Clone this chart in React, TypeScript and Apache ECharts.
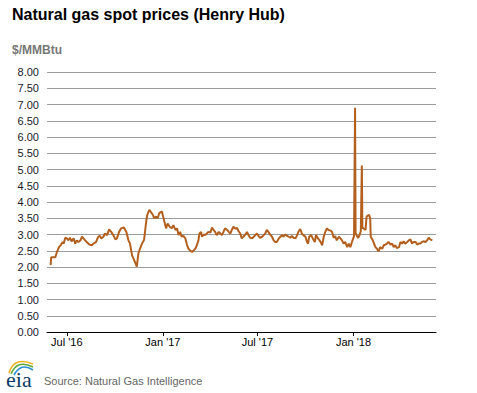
import React, { useEffect, useRef } from "react";
import * as echarts from "echarts";

const chartTitle = "Natural gas spot prices (Henry Hub)";
const unitLabel = "$/MMBtu";
const sourceLabel = "Source: Natural Gas Intelligence";
const logoText = "eia";

const dates = [
  "2016-05-31","2016-06-01","2016-06-09","2016-06-12","2016-06-16","2016-06-20","2016-06-23","2016-06-25","2016-06-28",
  "2016-07-01","2016-07-04","2016-07-07","2016-07-10","2016-07-14","2016-07-17","2016-07-20","2016-07-23","2016-07-27","2016-07-30",
  "2016-08-02","2016-08-05","2016-08-08","2016-08-13","2016-08-18","2016-08-21","2016-08-26","2016-08-30",
  "2016-09-02","2016-09-05","2016-09-09","2016-09-12","2016-09-16","2016-09-20","2016-09-24","2016-09-28",
  "2016-10-02","2016-10-05","2016-10-09","2016-10-13","2016-10-18","2016-10-23","2016-10-27","2016-10-30",
  "2016-11-03","2016-11-06","2016-11-12","2016-11-15","2016-11-18","2016-11-22","2016-11-26","2016-11-30",
  "2016-12-02","2016-12-06","2016-12-13","2016-12-15","2016-12-19","2016-12-22","2016-12-25","2016-12-30",
  "2017-01-03","2017-01-07","2017-01-10","2017-01-14","2017-01-18","2017-01-21","2017-01-25","2017-01-28","2017-01-31",
  "2017-02-03","2017-02-06","2017-02-09","2017-02-13","2017-02-16","2017-02-19","2017-02-22","2017-02-26",
  "2017-03-01","2017-03-04","2017-03-07","2017-03-10","2017-03-12","2017-03-15","2017-03-17","2017-03-20","2017-03-23","2017-03-26","2017-03-29",
  "2017-04-02","2017-04-05","2017-04-08","2017-04-11","2017-04-14","2017-04-18","2017-04-21","2017-04-24","2017-04-27","2017-04-30",
  "2017-05-04","2017-05-07","2017-05-10","2017-05-13","2017-05-16","2017-05-20","2017-05-23","2017-05-26","2017-05-29",
  "2017-06-01","2017-06-04","2017-06-08","2017-06-11","2017-06-14","2017-06-17","2017-06-21","2017-06-24","2017-06-27","2017-06-30",
  "2017-07-03","2017-07-06","2017-07-10","2017-07-13","2017-07-16","2017-07-19","2017-07-22","2017-07-26","2017-07-29",
  "2017-08-01","2017-08-04","2017-08-07","2017-08-11","2017-08-14","2017-08-17","2017-08-20","2017-08-23","2017-08-27","2017-08-30",
  "2017-09-02","2017-09-05","2017-09-08","2017-09-12","2017-09-15","2017-09-18","2017-09-21","2017-09-24","2017-09-27",
  "2017-10-01","2017-10-04","2017-10-06","2017-10-08","2017-10-12","2017-10-15","2017-10-19","2017-10-21","2017-10-25","2017-10-28","2017-10-30",
  "2017-11-02","2017-11-05","2017-11-08","2017-11-11","2017-11-14","2017-11-18","2017-11-21","2017-11-24","2017-11-27","2017-11-30",
  "2017-12-04","2017-12-07","2017-12-10","2017-12-13","2017-12-16","2017-12-20","2017-12-23","2017-12-26","2017-12-29",
  "2018-01-02","2018-01-04","2018-01-05","2018-01-08","2018-01-10","2018-01-12","2018-01-15","2018-01-17","2018-01-18","2018-01-20","2018-01-24","2018-01-26","2018-01-28","2018-01-31",
  "2018-02-02","2018-02-03","2018-02-07","2018-02-12","2018-02-15","2018-02-18","2018-02-21","2018-02-25","2018-02-28",
  "2018-03-03","2018-03-06","2018-03-09","2018-03-13","2018-03-16","2018-03-19","2018-03-22","2018-03-25","2018-03-29",
  "2018-04-01","2018-04-04","2018-04-07","2018-04-10","2018-04-14","2018-04-17","2018-04-20","2018-04-23","2018-04-26","2018-04-30",
  "2018-05-03","2018-05-06","2018-05-09","2018-05-12","2018-05-15","2018-05-19","2018-05-22","2018-05-25","2018-05-28","2018-06-01",
];

const prices = [
  2.06,2.30,2.30,2.46,2.61,2.69,2.77,2.72,2.90,
  2.88,2.82,2.90,2.79,2.88,2.72,2.82,2.77,2.82,2.93,
  2.88,2.82,2.77,2.69,2.67,2.72,2.77,2.93,
  2.96,2.88,2.93,3.03,2.98,3.16,3.08,2.98,
  2.85,2.88,3.08,3.19,3.22,3.08,2.82,2.72,
  2.35,2.25,2.01,2.41,2.56,2.72,2.84,3.40,
  3.60,3.76,3.60,3.50,3.55,3.50,3.66,3.71,
  3.45,3.19,3.34,3.24,3.19,3.29,3.14,3.19,2.98,
  3.08,2.93,2.96,2.88,2.69,2.56,2.51,2.46,
  2.51,2.56,2.67,2.82,3.03,3.08,2.93,3.00,2.98,3.03,3.08,
  3.06,3.21,3.14,3.08,2.98,3.08,3.03,2.98,3.08,3.19,
  3.14,3.08,3.03,3.14,3.24,3.18,3.20,3.10,3.03,
  2.88,2.93,3.00,3.08,2.98,2.90,2.88,2.93,2.98,3.03,
  2.96,2.90,2.93,2.98,3.03,3.14,3.08,2.98,2.93,
  2.82,2.77,2.77,2.88,2.93,2.98,2.93,3.00,2.96,2.93,
  2.90,2.96,2.90,2.88,2.98,3.10,3.17,3.03,2.98,
  2.93,2.77,2.72,2.93,2.98,2.88,2.77,2.98,2.88,2.82,2.77,
  2.67,2.93,3.08,3.19,3.14,3.12,3.08,2.90,2.95,2.82,
  2.93,2.88,2.82,2.72,2.77,2.61,2.72,2.61,2.77,
  2.95,6.90,3.05,2.94,2.90,2.96,3.10,5.12,3.20,3.19,3.14,3.55,3.58,3.60,
  3.50,2.93,2.82,2.61,2.56,2.48,2.61,2.56,2.67,
  2.69,2.72,2.77,2.69,2.72,2.61,2.67,2.58,2.61,
  2.77,2.72,2.79,2.72,2.77,2.82,2.85,2.72,2.77,2.77,
  2.69,2.72,2.72,2.77,2.79,2.77,2.82,2.90,2.85,2.82,
];

const xTickDates = ["2016-07-01", "2017-01-01", "2017-07-01", "2018-01-01"];
const xTickLabels = ["Jul '16", "Jan '17", "Jul '17", "Jan '18"];
const xRange = ["2016-05-24", "2018-06-08"];
const yMin = 0;
const yMax = 8;
const yStep = 0.5;

const FONT = "Arial, 'Liberation Sans', sans-serif";

function ts(s: string): number {
  const [y, m, d] = s.split("-").map(Number);
  return Date.UTC(y, m - 1, d);
}

export default function App() {
  const ref = useRef<HTMLDivElement>(null);

  useEffect(() => {
    document.body.style.margin = "0";
    if (!ref.current) return;
    const chart = echarts.init(ref.current, null, { renderer: "svg" });
    const tickTs = xTickDates.map(ts);
    const seriesData = dates.map((d, i) => [ts(d), prices[i]]);

    chart.setOption({
      animation: false,
      backgroundColor: "#ffffff",
      grid: { left: 47, right: 41, top: 72, bottom: 61 },
      xAxis: {
        type: "value",
        min: ts(xRange[0]),
        max: ts(xRange[1]),
        axisLine: { show: true, lineStyle: { color: "#000000", width: 1 } },
        axisTick: {
          show: true,
          length: 4,
          customValues: tickTs,
          lineStyle: { color: "#000000", width: 1 },
        },
        axisLabel: {
          customValues: tickTs,
          formatter: (v: number) => {
            const idx = tickTs.findIndex((t) => Math.abs(t - v) < 43200000);
            return idx >= 0 ? xTickLabels[idx] : "";
          },
          color: "#000000",
          fontSize: 11,
          fontFamily: FONT,
          margin: 4,
        },
        splitLine: { show: false },
      },
      yAxis: {
        type: "value",
        min: yMin,
        max: yMax,
        interval: yStep,
        axisLine: { show: false },
        axisTick: { show: false },
        axisLabel: {
          formatter: (v: number) => v.toFixed(2),
          color: "#1a1a2a",
          fontSize: 11,
          fontFamily: FONT,
          margin: 8,
        },
        splitLine: { lineStyle: { color: "#9c9c9c", width: 1 } },
      },
      series: [
        {
          type: "line",
          data: seriesData,
          showSymbol: false,
          symbol: "none",
          lineStyle: { color: "#b3601f", width: 2 },
          itemStyle: { color: "#b3601f" },
        },
      ],
      graphic: [
        {
          type: "text",
          left: 12,
          top: 6,
          style: { text: chartTitle, font: `bold 16px ${FONT}`, fill: "#000000" },
        },
        {
          type: "text",
          left: 12,
          top: 44,
          style: { text: unitLabel, font: `bold 12px ${FONT}`, fill: "#777777" },
        },
        {
          type: "text",
          left: 44,
          top: 375,
          style: { text: sourceLabel, font: `11px ${FONT}`, fill: "#666666" },
        },
        {
          type: "text",
          left: 6,
          top: 368,
          style: {
            text: logoText,
            font: `22px 'Liberation Serif', 'DejaVu Serif', serif`,
            fill: "#0d3b66",
          },
        },
        {
          type: "bezierCurve",
          shape: { x1: 9, y1: 373, cpx1: 14, cpy1: 356, x2: 33, y2: 364 },
          style: { stroke: "#f0b323", lineWidth: 1.6, fill: "none" },
        },
        {
          type: "bezierCurve",
          shape: { x1: 11, y1: 374, cpx1: 17, cpy1: 359, x2: 33, y2: 367 },
          style: { stroke: "#5fa83a", lineWidth: 1.6, fill: "none" },
        },
        {
          type: "bezierCurve",
          shape: { x1: 14, y1: 375, cpx1: 21, cpy1: 362, x2: 33, y2: 370 },
          style: { stroke: "#2a8fd4", lineWidth: 1.6, fill: "none" },
        },
      ],
    });

    return () => chart.dispose();
  }, []);

  return (
    <div
      ref={ref}
      style={{ position: "absolute", left: 0, top: 0, width: 477, height: 393 }}
    />
  );
}
